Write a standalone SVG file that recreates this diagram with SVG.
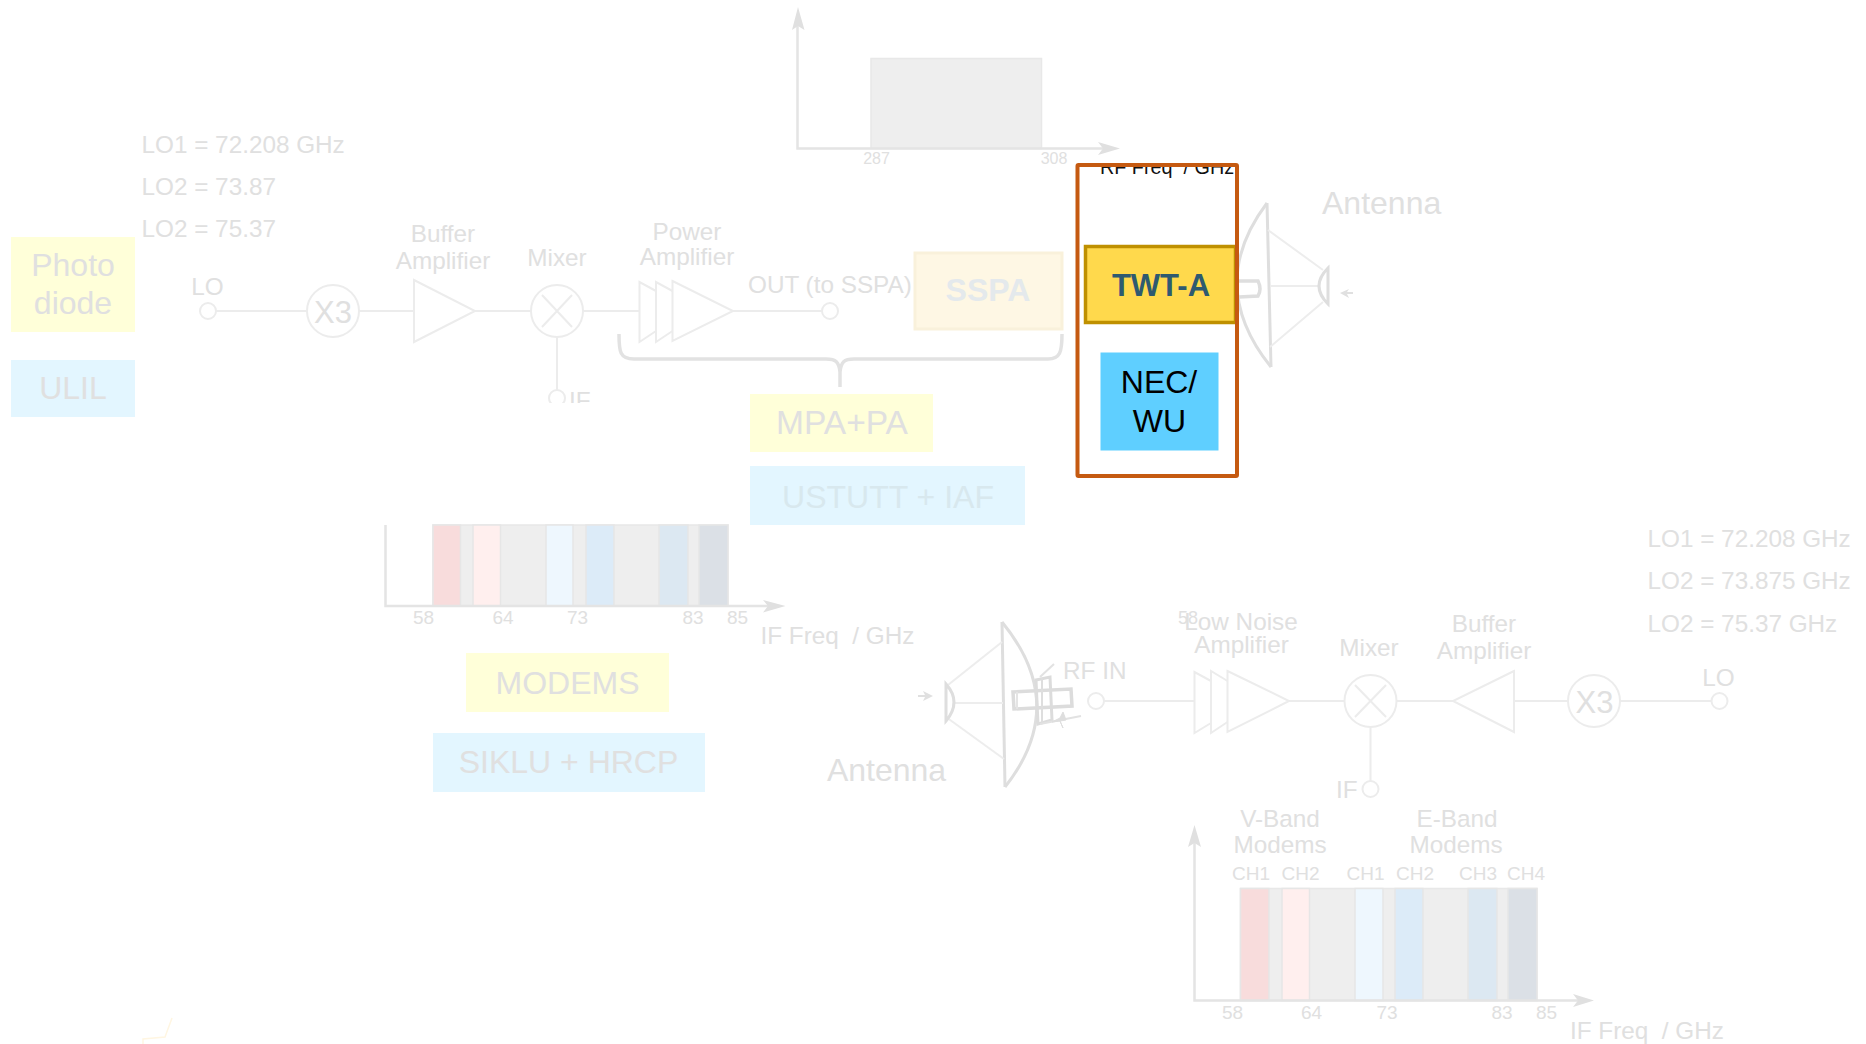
<svg xmlns="http://www.w3.org/2000/svg" width="1866" height="1044" viewBox="0 0 1866 1044">
<style>
text{font-family:"Liberation Sans",Arial,sans-serif;fill:#e0e0e0;font-size:24.300px}
.m{text-anchor:middle}
.s{font-size:19px}
.xs{font-size:16px}
.b{font-size:32px}
.w{fill:none;stroke:#ededed;stroke-width:2}
.l{fill:none;stroke:#ececec;stroke-width:2}
.c{fill:#fff;stroke:#ececec;stroke-width:2}
.d{fill:none;stroke:#dedede;stroke-width:3}
.ax{fill:none;stroke:#e4e4e4;stroke-width:2.500}
.ah{fill:#e0e0e0}
.g{fill:#eeeeee;stroke:#e8e8e8;stroke-width:1.500}
.band{stroke:#e6e6e6;stroke-width:1.500}
.y{fill:#ffffd9}
.u{fill:#e3f6ff}
</style>
<defs>
<clipPath id="cut"><rect x="0" y="0" width="1866" height="403"/></clipPath>
<clipPath id="rfcut"><rect x="1079" y="167" width="156" height="20"/></clipPath>
</defs>
<rect width="1866" height="1044" fill="#fff"/>

<g id="connectors">
<path class="l" d="M216 311H307M359 311H414M475 311H531M583 311H640M733 311H822"/>
<path class="l" clip-path="url(#cut)" d="M557 337V390"/>
<path class="l" d="M1104 701H1194M1289 701H1344M1396.500 701H1453M1514 701H1568M1620 701H1711M1370.500 727V781"/>
<path d="M619 334C619 352 620 359 634 359H826C836 359 839 362 840 372V387M840 372C841 362 844 359 854 359H1048C1060 359 1062 352 1062 334" fill="none" stroke="#e2e2e2" stroke-width="3.500"/>
<path d="M172 1018L165 1037L143 1039V1044" fill="none" stroke="#fff6e2" stroke-width="1.500"/>
</g>

<g id="lo-note-tx">
<text x="141.500" y="153">LO1 = 72.208 GHz</text>
<text x="141.500" y="195">LO2 = 73.87</text>
<text x="141.500" y="237">LO2 = 75.37</text>
</g>
<g id="photodiode"><rect class="y" x="11" y="237" width="124" height="95"/><text class="m b" x="73" y="276">Photo</text><text class="m b" x="73" y="314">diode</text></g>
<g id="ulil"><rect class="u" x="11" y="360" width="124" height="57"/><text class="m b" x="73" y="399">ULIL</text></g>
<g id="tx-lo"><circle class="c" cx="208" cy="311" r="8"/><text class="m" x="207.500" y="295">LO</text></g>
<g id="tx-x3"><circle class="c" cx="333" cy="311" r="26"/><text class="m" style="font-size:31px" x="333" y="323">X3</text></g>
<g id="tx-buffer"><path class="c" d="M414 280L475 311L414 342Z"/><text class="m" x="443" y="242">Buffer</text><text class="m" x="443" y="269">Amplifier</text></g>
<g id="tx-mixer"><circle class="c" cx="557" cy="311" r="26"/><path class="l" d="M542 295L572 327M572 295L542 327"/><text class="m" x="557" y="266">Mixer</text></g>
<g id="tx-if" clip-path="url(#cut)"><circle class="c" cx="557" cy="398" r="8"/><text x="569" y="409">IF</text></g>
<g id="tx-pa"><path class="l" d="M656 291L639.500 282V342L656 331M672.500 291L656 282V342L672.500 331"/><path class="c" d="M672.500 281L733 311L672.500 341Z"/><text class="m" x="687" y="240">Power</text><text class="m" x="687" y="265">Amplifier</text></g>
<g id="tx-out"><circle class="c" cx="830" cy="311" r="8"/><text x="748" y="293">OUT (to SSPA)</text></g>
<g id="sspa"><rect x="915" y="253" width="147" height="76" fill="#fef7e4" stroke="#f9f1db" stroke-width="3"/><text class="m" x="988" y="301" style="font-size:32px;font-weight:bold;fill:#e4e9ec">SSPA</text></g>
<g id="mpa-pa"><rect class="y" x="750" y="394" width="183" height="58"/><text class="m" style="font-size:33.500px" x="842" y="434">MPA+PA</text></g>
<g id="ustutt-iaf"><rect class="u" x="750" y="466" width="275" height="59"/><text class="m" style="font-size:32px;fill:#d8e8ee" x="888" y="508">USTUTT + IAF</text></g>

<g id="rf-chart">
<rect class="g" x="871" y="58.500" width="170.500" height="90"/>
<path class="ax" d="M797.500 24V148.500H1104"/>
<path class="ah" d="M798 7L804.500 30L798 26L792 30Z"/>
<path class="ah" d="M1120 148.500L1098 142L1103 148.500L1098 155Z"/>
<text class="m xs" x="876.500" y="164">287</text>
<text class="m xs" x="1054" y="164">308</text>
</g>

<g id="tx-antenna">
<path class="d" d="M1267 203Q1205 285 1271 367"/>
<path class="d" d="M1267 203L1271 367"/>
<path class="w" d="M1268 230L1323 270M1270 347L1323 302M1270 286H1319"/>
<path d="M1328 268Q1310 286 1328 304Z" fill="none" stroke="#dedede" stroke-width="3"/>
<path d="M1239 281L1258 281Q1262 289 1258 296L1239 297" fill="none" stroke="#dedede" stroke-width="3.500"/>
<path d="M1340 293L1349 289L1347 292H1353V294H1347L1349 298Z" fill="#e0e0e0"/>
<text x="1322" y="214" class="b">Antenna</text>
</g>

<g id="box-tx-amp">
<rect x="1077.500" y="165" width="159.500" height="311" fill="#fff"/>
<text clip-path="url(#rfcut)" xml:space="preserve" x="1100" y="174" style="font-size:19.800px;fill:#111">RF Freq  / GHz</text>
</g>
<g id="twt-a"><rect x="1085.500" y="246.500" width="150" height="76" fill="#ffd94c" stroke="#bf9000" stroke-width="3.500"/><text class="m" x="1161" y="296" style="font-size:31px;font-weight:bold;fill:#2e5a70">TWT-A</text></g>
<g id="nec-wu"><rect x="1100.500" y="352.500" width="118" height="98" fill="#5fcfff"/><text class="m b" x="1159" y="393" style="fill:#000">NEC/</text><text class="m b" x="1159.500" y="432" style="fill:#000">WU</text></g>
<rect id="orange-frame" x="1077.500" y="165" width="159.500" height="311" rx="1" fill="none" stroke="#c55a11" stroke-width="4"/>

<g id="if-chart-upper">
<rect class="g" x="433" y="525" width="295" height="81"/>
<rect class="band" x="433" y="525" width="27.500" height="81" fill="#f8dcdc"/>
<rect class="band" x="473" y="525" width="27.500" height="81" fill="#ffefee"/>
<rect class="band" x="546" y="525" width="27" height="81" fill="#eef7fe"/>
<rect class="band" x="586" y="525" width="28" height="81" fill="#dcebf8"/>
<rect class="band" x="659" y="525" width="29" height="81" fill="#dce8f2"/>
<rect class="band" x="699" y="525" width="29" height="81" fill="#dbe0e6"/>
<path class="ax" d="M385.500 525V606H768"/>
<path class="ah" d="M785.500 606L763 600L768 606L763 612.500Z"/>
<text class="m s" x="423.500" y="624">58</text><text class="m s" x="503" y="624">64</text><text class="m s" x="577.500" y="624">73</text><text class="m s" x="693" y="624">83</text><text class="m s" x="737.500" y="624">85</text>
<text xml:space="preserve" x="760.500" y="644">IF Freq  / GHz</text>
</g>
<g id="modems"><rect class="y" x="466" y="653" width="203" height="59"/><text class="m b" x="567.500" y="694">MODEMS</text></g>
<g id="siklu-hrcp"><rect class="u" x="433" y="733" width="272" height="59"/><text class="m" style="font-size:32px" x="568.500" y="773">SIKLU + HRCP</text></g>

<g id="rx-antenna">
<path class="d" d="M1002 622Q1070 705 1005 787"/>
<path class="d" d="M1002 622L1005 787"/>
<path class="w" d="M948 685L1002 642M946 717L1004 759M955 703H1003"/>
<path d="M946 684Q962 702 946 721Z" fill="none" stroke="#dedede" stroke-width="3"/>
<path d="M933 696L923 691L925 695H918V697H925L923 701Z" fill="#e0e0e0"/>
<path d="M1013 692L1071 689L1072 706L1014 709Z" fill="none" stroke="#dcdcdc" stroke-width="3.500"/>
<path d="M1017 692V709" fill="none" stroke="#e4e4e4" stroke-width="2"/>
<path d="M1036 680L1050 677L1052 720L1038 724Z" fill="none" stroke="#dcdcdc" stroke-width="3"/>
<path class="d" d="M1042 678V722" style="stroke-width:2"/>
<path class="w" d="M1040 677L1054 664M1040 724L1081 716" style="stroke:#e2e2e2"/>
<path d="M1063 712L1066 720L1060 721L1063 728L1060 721L1052 722L1060 718Z" fill="#dedede" stroke="#dedede"/>
<text x="1063" y="679">RF IN</text>
<text class="m b" x="886.500" y="781">Antenna</text>
</g>
<g id="rx-rfin"><circle class="c" cx="1096" cy="701" r="8"/></g>
<g id="rx-lna"><path class="l" d="M1211 681L1194.500 672V733L1211 723M1227.500 681L1211 671V733L1227.500 722"/><path class="c" d="M1227.500 671L1289 701L1227.500 732Z"/><text class="m s" x="1188" y="624" style="font-size:18px">58</text><text class="m" x="1241" y="630">Low Noise</text><text class="m" x="1241.500" y="653">Amplifier</text></g>
<g id="rx-mixer"><circle class="c" cx="1370.500" cy="701" r="26"/><path class="l" d="M1355 685L1386 717M1386 685L1355 717"/><text class="m" x="1369" y="656">Mixer</text></g>
<g id="rx-if"><circle class="c" cx="1370.500" cy="789" r="8"/><text x="1336" y="798">IF</text></g>
<g id="rx-buffer"><path class="c" d="M1514 671L1453 701L1514 732Z"/><text class="m" x="1484" y="632">Buffer</text><text class="m" x="1484" y="659">Amplifier</text></g>
<g id="rx-x3"><circle class="c" cx="1594" cy="701" r="26"/><text class="m" style="font-size:31px" x="1594.500" y="713">X3</text></g>
<g id="rx-lo"><circle class="c" cx="1719.500" cy="701" r="8"/><text class="m" x="1718.500" y="686">LO</text></g>
<g id="lo-note-rx">
<text x="1647.500" y="547">LO1 = 72.208 GHz</text>
<text x="1647.500" y="589">LO2 = 73.875 GHz</text>
<text x="1647.500" y="632">LO2 = 75.37 GHz</text>
</g>

<g id="if-chart-lower">
<rect class="g" x="1240.500" y="888.500" width="296.500" height="112"/>
<rect class="band" x="1240.500" y="888.500" width="28.500" height="112" fill="#f8dcdc"/>
<rect class="band" x="1282" y="888.500" width="27.500" height="112" fill="#ffefee"/>
<rect class="band" x="1355" y="888.500" width="28" height="112" fill="#eef7fe"/>
<rect class="band" x="1395" y="888.500" width="28" height="112" fill="#dcebf8"/>
<rect class="band" x="1468" y="888.500" width="29" height="112" fill="#dce8f2"/>
<rect class="band" x="1508" y="888.500" width="29" height="112" fill="#dbe0e6"/>
<path class="ax" d="M1194.500 842V1000.500H1578"/>
<path class="ah" d="M1194.500 825L1201 847L1194.500 843L1188 847Z"/>
<path class="ah" d="M1594 1000.500L1573 994L1578 1000.500L1573 1007Z"/>
<text class="m" x="1280" y="827">V-Band</text><text class="m" x="1280" y="853">Modems</text>
<text class="m" x="1457" y="827">E-Band</text><text class="m" x="1456" y="853">Modems</text>
<text class="m s" x="1251" y="880">CH1</text><text class="m s" x="1300.500" y="880">CH2</text><text class="m s" x="1365.500" y="880">CH1</text><text class="m s" x="1415" y="880">CH2</text><text class="m s" x="1478" y="880">CH3</text><text class="m s" x="1526" y="880">CH4</text>
<text class="m s" x="1232.500" y="1019">58</text><text class="m s" x="1311.500" y="1019">64</text><text class="m s" x="1387" y="1019">73</text><text class="m s" x="1502" y="1019">83</text><text class="m s" x="1546.500" y="1019">85</text>
<text xml:space="preserve" x="1570" y="1039">IF Freq  / GHz</text>
</g>
</svg>
